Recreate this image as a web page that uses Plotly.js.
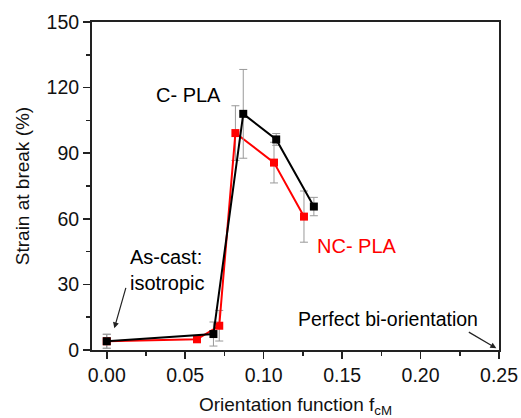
<!DOCTYPE html>
<html><head><meta charset="utf-8">
<script src="https://cdn.plot.ly/plotly-3.0.1.min.js"></script>
<style>body{margin:0;background:#fff}#c{width:521px;height:418px}</style>
</head><body><div id="c"></div>
<script>
// C-PLA series
const cX = [0.0, 0.068, 0.087, 0.108, 0.132];
const cY = [4.0, 7.3, 108.0, 96.3, 65.6];
const cErr = [3.2, 5.5, 20.3, 2.7, 4.2];
// NC-PLA series
const ncX = [0.0, 0.0575, 0.0717, 0.082, 0.1066, 0.1257];
const ncY = [4.0, 4.9, 11.1, 99.2, 85.7, 61.0];
const ncErr = [3.2, 1.0, 7.0, 12.5, 9.3, 11.7];
// axis ticks
const xTicks = [0.00, 0.05, 0.10, 0.15, 0.20, 0.25];
const xTickText = ["0.00", "0.05", "0.10", "0.15", "0.20", "0.25"];
const yTicks = [0, 30, 60, 90, 120, 150];

const font = "Liberation Sans, Arial, sans-serif";
const axisCol = "#222";

const traces = [
  {x: ncX, y: ncY, type: "scatter", mode: "lines+markers", name: "NC- PLA",
   line: {color: "#ff0000", width: 2},
   marker: {symbol: "square", size: 8, color: "#ff0000"},
   error_y: {type: "data", array: ncErr, visible: true, color: "#999", thickness: 1, width: 4}},
  {x: cX, y: cY, type: "scatter", mode: "lines+markers", name: "C- PLA",
   line: {color: "#000000", width: 2},
   marker: {symbol: "square", size: 8, color: "#000000"},
   error_y: {type: "data", array: cErr, visible: true, color: "#999", thickness: 1, width: 4}}
];

const layout = {
  width: 521, height: 418,
  margin: {l: 92, r: 22, t: 22, b: 68},
  paper_bgcolor: "#fff", plot_bgcolor: "#fff",
  showlegend: false,
  font: {family: font, size: 19, color: "#111"},
  xaxis: {
    range: [-0.0094, 0.25], tickvals: xTicks, ticktext: xTickText,
    showgrid: false, zeroline: false,
    showline: true, linecolor: axisCol, linewidth: 2, mirror: true,
    ticks: "outside", ticklen: 7, tickwidth: 1.5, tickcolor: axisCol,
    minor: {dtick: 0.025, tick0: 0, ticks: "outside", ticklen: 4, tickwidth: 1.5, tickcolor: axisCol, showgrid: false},
    tickfont: {size: 19.5, family: font, color: "#111"},
    title: {text: "Orientation function f<sub>cM</sub>", font: {size: 19, family: font, color: "#111"}, standoff: 12}
  },
  yaxis: {
    range: [0, 150], tickvals: yTicks,
    showgrid: false, zeroline: false,
    showline: true, linecolor: axisCol, linewidth: 2, mirror: true,
    ticks: "outside", ticklen: 7, tickwidth: 1.5, tickcolor: axisCol,
    minor: {dtick: 15, tick0: 0, ticks: "outside", ticklen: 4, tickwidth: 1.5, tickcolor: axisCol, showgrid: false},
    tickfont: {size: 19.5, family: font, color: "#111"},
    title: {text: "Strain at break (%)", font: {size: 19, family: font, color: "#111"}, standoff: 12}
  },
  annotations: [
    {x: 0.0524, y: 116.4, xref: "x", yref: "y", text: "C- PLA", showarrow: false,
     font: {size: 20, family: font, color: "#000"}},
    {x: 0.1597, y: 47.6, xref: "x", yref: "y", text: "NC- PLA", showarrow: false,
     font: {size: 20, family: font, color: "#ff0000"}},
    {x: 0.0136, y: 36.8, xref: "x", yref: "y", text: "As-cast:<br>isotropic", showarrow: false,
     xanchor: "left", align: "left", font: {size: 20, family: font, color: "#000"}},
    {x: 0.0048, y: 9.9, xref: "x", yref: "y", text: "", showarrow: true,
     ax: 12, ay: -42, arrowhead: 2, arrowsize: 1, arrowwidth: 1.2, arrowcolor: "#222"},
    {x: 0.1794, y: 14.0, xref: "x", yref: "y", text: "Perfect bi-orientation", showarrow: false,
     font: {size: 19.5, family: font, color: "#000"}},
    {x: 0.2483, y: 0.8, xref: "x", yref: "y", text: "", showarrow: true,
     ax: -29, ay: -17, arrowhead: 2, arrowsize: 1, arrowwidth: 1.2, arrowcolor: "#222"}
  ]
};

Plotly.newPlot("c", traces, layout, {displayModeBar: false, staticPlot: true});
</script>
</body></html>
